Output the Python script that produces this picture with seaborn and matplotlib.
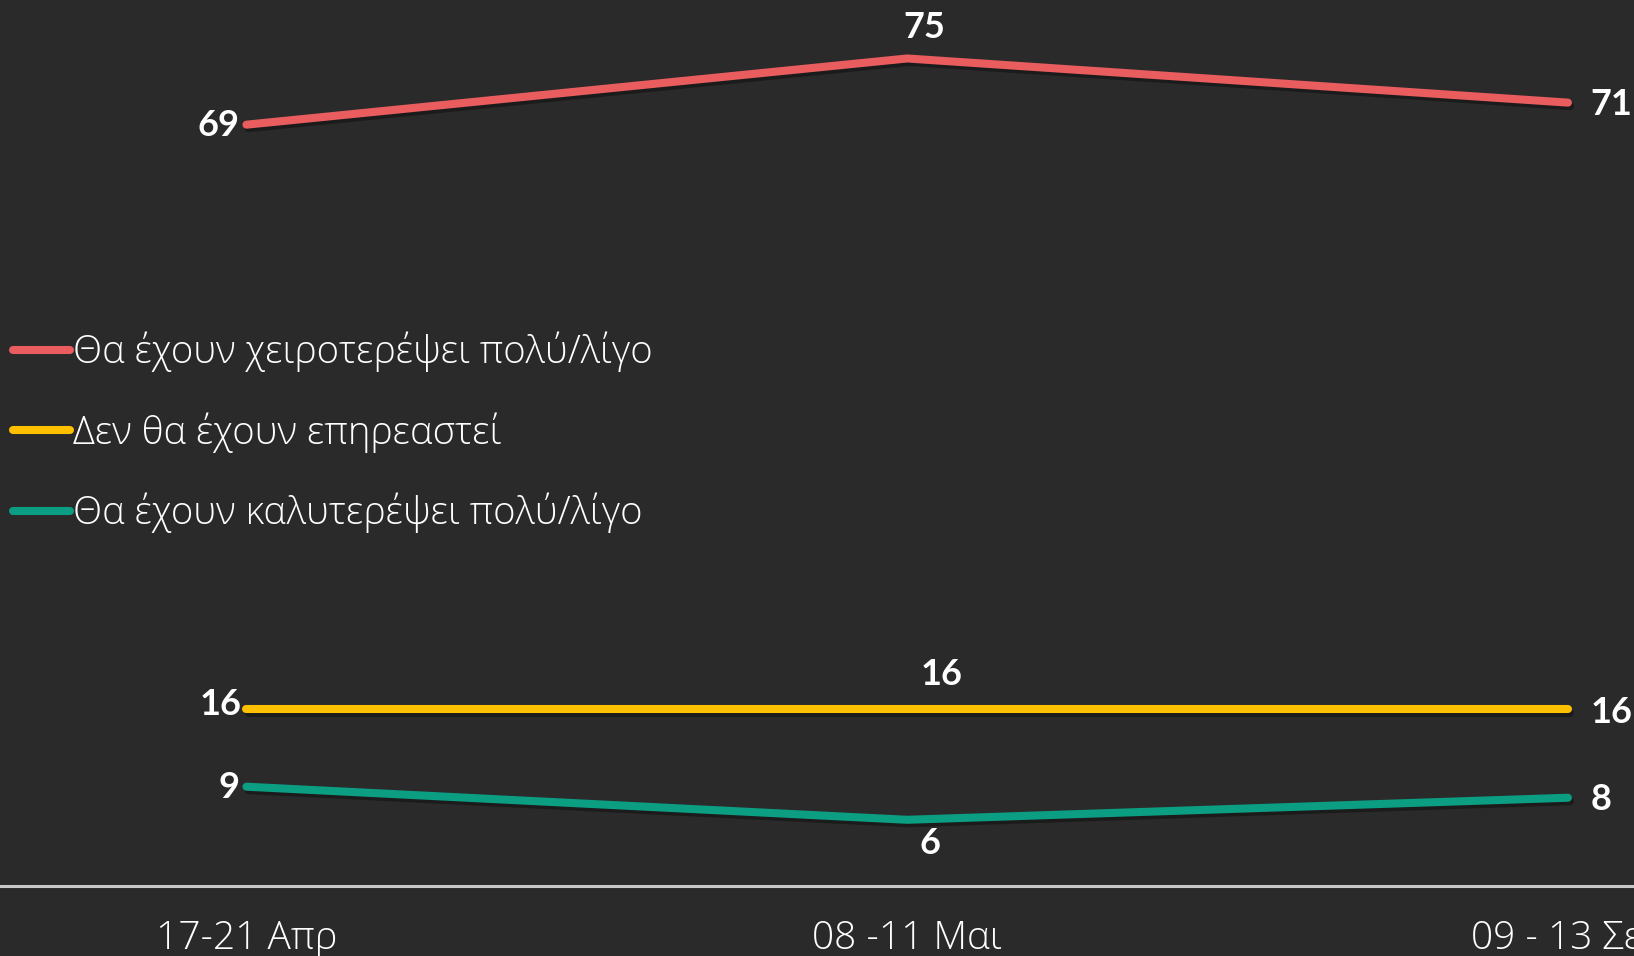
import matplotlib
matplotlib.use("Agg")
import matplotlib.pyplot as plt
import matplotlib.patheffects as pe
import seaborn as sns
import pandas as pd

# ---- data ----
periods = ["17-21 Απρ", "08 -11 Μαι", "09 - 13 Σεπ"]
series_names = ["Θα έχουν χειροτερέψει πολύ/λίγο",
                "Δεν θα έχουν επηρεαστεί",
                "Θα έχουν καλυτερέψει πολύ/λίγο"]
worse = [69, 75, 71]
same = [16, 16, 16]
better = [9, 6, 8]
colors = ["#E95D5F", "#FFC000", "#0B9E82"]

values = [worse, same, better]
df = pd.DataFrame({
    "period": [p for _ in series_names for p in periods],
    "series": [s for s in series_names for _ in periods],
    "value": [v for vals in values for v in vals],
})

BG = "#2B2A2B"
sns.set_theme(style="white")
plt.rcParams["font.family"] = ["Open Sans", "DejaVu Sans"]

fig = plt.figure(figsize=(16.34, 9.56), dpi=100, facecolor=BG)
ax = fig.add_axes([0, 70 / 956, 1, 886 / 956])
ax.set_facecolor(BG)

shadow = [pe.SimpleLineShadow(offset=(1.5, -2.5), shadow_color="black", alpha=0.35),
          pe.Normal()]
sns.lineplot(data=df, x="period", y="value", hue="series", palette=colors,
             hue_order=series_names, linewidth=5.8, ax=ax, sort=False,
             path_effects=shadow)
for ln in ax.get_lines():
    ln.set_solid_capstyle("round")
    ln.set_solid_joinstyle("round")

ax.set_xlim(-0.373, 2.1)
ax.set_ylim(0, 80.3)
ax.set_xlabel("")
ax.set_ylabel("")
ax.set_yticks([])
for s in ["top", "right", "left"]:
    ax.spines[s].set_visible(False)
ax.spines["bottom"].set_color("#C8C8C8")
ax.spines["bottom"].set_linewidth(2.2)
ax.tick_params(axis="x", length=0, pad=24, labelsize=28, labelcolor="white")
for t in ax.get_xticklabels():
    t.set_fontweight("light")

# legend
handles, labels = ax.get_legend_handles_labels()
leg = ax.legend(handles, labels, loc="center left", bbox_to_anchor=(0.0078, 0.512),
                frameon=False, fontsize=27.5, handlelength=1.5, handletextpad=0.08,
                labelspacing=1.05, borderpad=0, borderaxespad=0)
for t in leg.get_texts():
    t.set_color("white")
    t.set_fontweight("light")
for h in leg.get_lines():
    h.set_linewidth(5.8)
    h.set_solid_capstyle("round")
    h.set_path_effects([])

# data labels: offsets in pixels (dx, dy, ha)
PX = 72 / 100
offsets = [
    [(-7, -1, "right"), (17, 31, "center"), (22, -2, "left")],
    [(-5, 5, "right"), (34, 35, "center"), (23, -3, "left")],
    [(-7, -1, "right"), (23, -24, "center"), (23, -2, "left")],
]
for vals, offs in zip(values, offsets):
    for i, (v, (dx, dy, ha)) in enumerate(zip(vals, offs)):
        ax.annotate(str(v), (i, v), xytext=(dx * PX, dy * PX),
                    textcoords="offset points", ha=ha, va="center",
                    color="white", fontsize=26, fontweight="bold",
                    family=["Lato", "DejaVu Sans"])

fig.savefig("out.png", dpi=100, facecolor=BG)
